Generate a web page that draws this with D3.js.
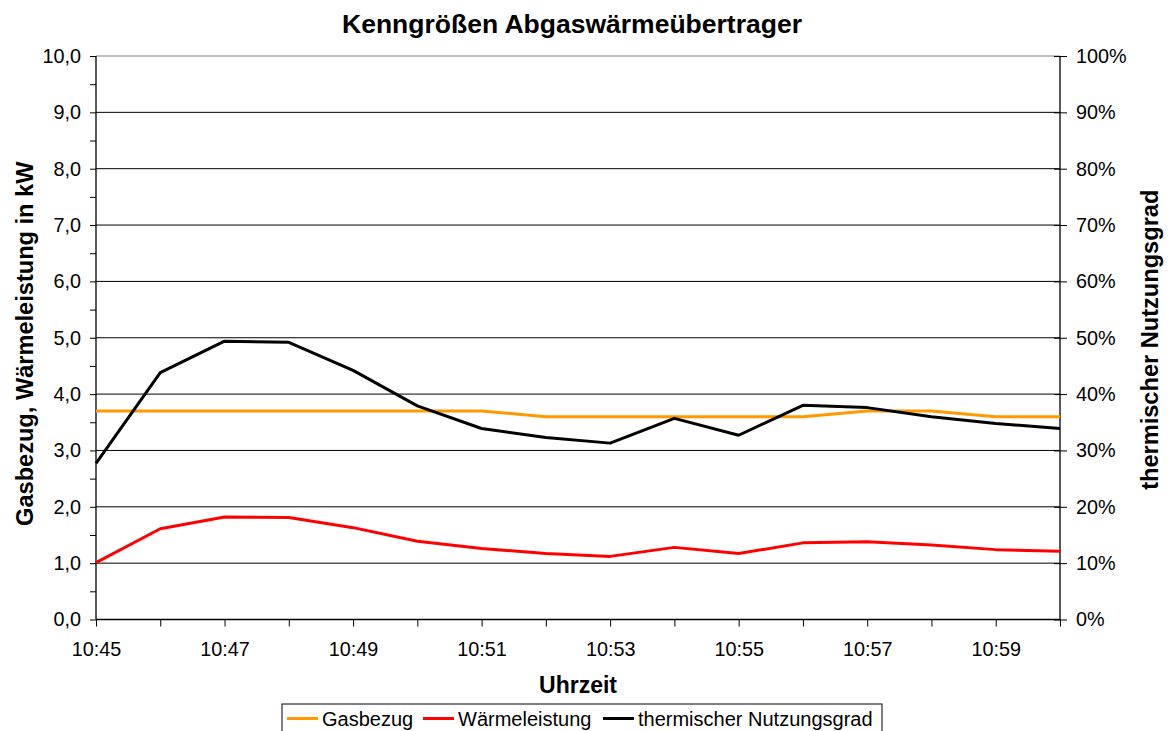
<!DOCTYPE html>
<html>
<head>
<meta charset="utf-8">
<script src="https://cdn.jsdelivr.net/npm/d3@7"></script>
<style>
  html, body { margin: 0; padding: 0; background: #fff; }
  svg { display: block; font-family: "Liberation Sans", Arial, sans-serif; }
</style>
</head>
<body>
<svg id="chart" width="1170" height="731"></svg>
<script>
// minute labels (10:45 .. 11:00)
const times = ['10:45','10:46','10:47','10:48','10:49','10:50','10:51','10:52',
               '10:53','10:54','10:55','10:56','10:57','10:58','10:59','11:00'];
const xTickLabels = ['10:45','10:47','10:49','10:51','10:53','10:55','10:57','10:59'];

// kW
const gasbezug = [3.7, 3.7, 3.7, 3.7, 3.7, 3.7, 3.7, 3.6, 3.6, 3.6, 3.6, 3.6, 3.7, 3.7, 3.6, 3.6];
const waermeleistung = [1.01, 1.61, 1.82, 1.81, 1.63, 1.39, 1.26, 1.17, 1.12, 1.28, 1.17, 1.36, 1.38, 1.32, 1.24, 1.21];
// fraction, right axis
const nutzungsgrad = [0.277, 0.438, 0.494, 0.492, 0.442, 0.379, 0.339, 0.323, 0.313, 0.357, 0.327, 0.380, 0.376, 0.360, 0.348, 0.339];

const series = [
  {name: 'Gasbezug', values: gasbezug, color: '#ff9900', axis: 'left'},
  {name: 'Wärmeleistung', values: waermeleistung, color: '#ff0000', axis: 'left'},
  {name: 'thermischer Nutzungsgrad', values: nutzungsgrad, color: '#000000', axis: 'right'}
];

const svg = d3.select('#chart');
const margin = {top: 56, right: 110, bottom: 111.5, left: 96};
const width = +svg.attr('width') - margin.left - margin.right;
const height = +svg.attr('height') - margin.top - margin.bottom;

const toMin = t => { const p = t.split(':'); return (+p[0]) * 60 + (+p[1]); };
const t0 = toMin(times[0]);

const x = d3.scaleLinear().domain([0, toMin(times[times.length - 1]) - t0]).range([0, width]);
const yL = d3.scaleLinear().domain([0, 10]).range([height, 0]);
const yR = d3.scaleLinear().domain([0, 1]).range([height, 0]);

const g = svg.append('g').attr('transform', 'translate(' + margin.left + ',' + margin.top + ')');

// gridlines
g.append('g')
  .selectAll('line')
  .data(d3.range(1, 11))
  .enter().append('line')
  .attr('x1', 0).attr('x2', width)
  .attr('y1', d => yL(d)).attr('y2', d => yL(d))
  .attr('stroke', d => d === 10 ? '#808080' : '#000')
  .attr('stroke-width', 1);

const commaFmt = d => d3.format('.1f')(d).replace('.', ',');

// left axis
const leftAxis = g.append('g')
  .call(d3.axisLeft(yL).tickValues(d3.range(0, 10.01, 0.5)).tickSize(6)
    .tickFormat(d => Number.isInteger(d) ? commaFmt(d) : ''));
leftAxis.selectAll('text').style('font-size', '19.8px').attr('x', -15).attr('fill', '#000');

// right axis
const rightAxis = g.append('g').attr('transform', 'translate(' + width + ',0)')
  .call(d3.axisRight(yR).tickValues(d3.range(0, 1.001, 0.1)).tickSize(7)
    .tickFormat(d3.format('.0%')));
rightAxis.selectAll('.tick line').attr('x1', -6);
rightAxis.selectAll('text').style('font-size', '19.8px').attr('x', 16).attr('fill', '#000');

// bottom axis
const bottomAxis = g.append('g').attr('transform', 'translate(0,' + height + ')')
  .call(d3.axisBottom(x).tickValues(d3.range(0, 16)).tickSize(7)
    .tickFormat(d => {
      const lbl = times[d];
      return xTickLabels.includes(lbl) ? lbl : '';
    }));
bottomAxis.selectAll('text').style('font-size', '19.8px').attr('y', 22).attr('fill', '#000');

[leftAxis, rightAxis, bottomAxis].forEach(a => {
  a.select('.domain').attr('stroke', '#000').attr('stroke-width', 1.3);
  a.selectAll('.tick line').attr('stroke', '#000');
});
leftAxis.select('.domain').attr('d', 'M0,' + height + 'V0');
rightAxis.select('.domain').attr('d', 'M0,' + height + 'V0');
bottomAxis.select('.domain').attr('d', 'M0,0H' + width);

// lines
series.forEach(s => {
  const yScale = s.axis === 'left' ? yL : yR;
  const line = d3.line()
    .x((d, i) => x(toMin(times[i]) - t0))
    .y(d => yScale(d));
  g.append('path')
    .datum(s.values)
    .attr('fill', 'none')
    .attr('stroke', s.color)
    .attr('stroke-width', 3)
    .attr('stroke-linejoin', 'round')
    .attr('d', line);
});

// title
svg.append('text')
  .attr('x', 572).attr('y', 33)
  .attr('text-anchor', 'middle')
  .style('font-size', '26.5px').style('font-weight', 'bold')
  .text('Kenngrößen Abgaswärmeübertrager');

svg.append('text')
  .attr('x', 578).attr('y', 693)
  .attr('text-anchor', 'middle')
  .style('font-size', '23px').style('font-weight', 'bold')
  .text('Uhrzeit');

svg.append('text')
  .attr('transform', 'translate(33,' + (margin.top + height / 2 + 6) + ') rotate(-90)')
  .attr('text-anchor', 'middle')
  .style('font-size', '23.6px').style('font-weight', 'bold')
  .text('Gasbezug, Wärmeleistung in kW');

svg.append('text')
  .attr('transform', 'translate(1158,' + (margin.top + height / 2 + 2) + ') rotate(-90)')
  .attr('text-anchor', 'middle')
  .style('font-size', '23.6px').style('font-weight', 'bold')
  .text('thermischer Nutzungsgrad');

// legend
const legend = svg.append('g').attr('transform', 'translate(282,704)');
legend.append('rect')
  .attr('x', 0).attr('y', 0).attr('width', 600).attr('height', 34)
  .attr('fill', '#fff').attr('stroke', '#000').attr('stroke-width', 1);

const legendX = [5, 141, 321];
series.forEach((s, i) => {
  const item = legend.append('g').attr('transform', 'translate(' + legendX[i] + ',0)');
  item.append('line')
    .attr('x1', 0).attr('x2', 31).attr('y1', 14.5).attr('y2', 14.5)
    .attr('stroke', s.color).attr('stroke-width', 3);
  item.append('text')
    .attr('x', 35).attr('y', 22)
    .style('font-size', '20px')
    .text(s.name);
});
</script>
</body>
</html>
